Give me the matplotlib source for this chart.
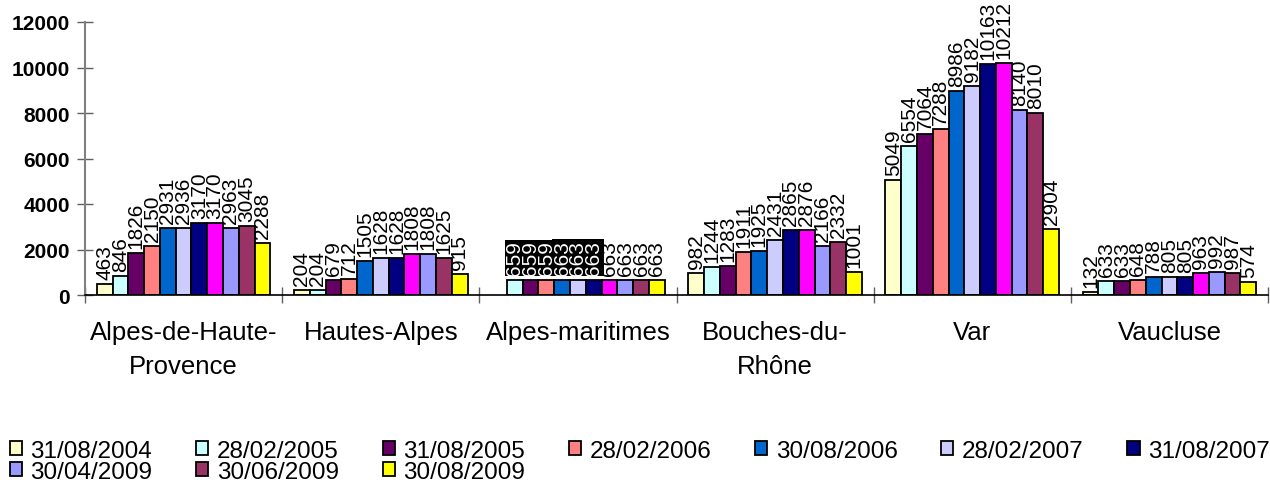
import numpy as np
import matplotlib
matplotlib.use("Agg")
import matplotlib.pyplot as plt
from matplotlib.patches import Patch

plt.rcParams['font.family'] = ['Liberation Sans', 'DejaVu Sans']

categories = ["Alpes-de-Haute-\nProvence", "Hautes-Alpes", "Alpes-maritimes",
              "Bouches-du-\nRhône", "Var", "Vaucluse"]
series_labels = ["31/08/2004", "28/02/2005", "31/08/2005", "28/02/2006",
                 "30/08/2006", "28/02/2007", "31/08/2007", None,
                 "30/04/2009", "30/06/2009", "30/08/2009"]
series_colors = ["#FFFFCC", "#CCFFFF", "#660066", "#FF8080", "#0066CC", "#CCCCFF",
                 "#000080", "#FF00FF", "#9999FF", "#993366", "#FFFF00"]
# values[series][category]
values = [
    [463, 204, np.nan, 982, 5049, 132],
    [846, 204, 659, 1244, 6554, 633],
    [1826, 679, 659, 1283, 7064, 633],
    [2150, 712, 659, 1911, 7288, 648],
    [2931, 1505, 663, 1925, 8986, 788],
    [2936, 1628, 663, 2431, 9182, 805],
    [3170, 1628, 663, 2865, 10163, 805],
    [3170, 1808, 663, 2876, 10212, 963],
    [2963, 1808, 663, 2166, 8140, 992],
    [3045, 1625, 663, 2332, 8010, 987],
    [2288, 915, 663, 1001, 2904, 574],
]
yticks = [0, 2000, 4000, 6000, 8000, 10000, 12000]

fig = plt.figure(figsize=(12.7, 4.85), dpi=100)
ax = fig.add_axes([85/1270, 1-296/485, (1268-85)/1270, (296-23)/485])

n = len(values)
ncat = len(categories)
bw = 0.08
x = np.arange(ncat)
for i, (vals, col, lab) in enumerate(zip(values, series_colors, series_labels)):
    xs = x - bw*n/2 + bw*(i+0.5)
    ax.bar(xs, vals, width=bw, color=col, edgecolor='black', linewidth=1.3,
           label=lab if lab else '_nolegend_')
    for j, v in enumerate(vals):
        if np.isnan(v):
            continue
        black = (j == 2 and 1 <= i <= 6)
        kw = {}
        if black:
            kw = dict(color='white', bbox=dict(facecolor='black', edgecolor='none', pad=0.5))
        ax.text(xs[j], v + 220, f"{int(v)}", rotation=90, ha='center', va='bottom',
                fontsize=15, **kw)

ax.set_xlim(-0.5, ncat - 0.5)
ax.set_ylim(0, 12000)
ax.set_yticks(yticks)
ax.set_yticklabels([str(t) for t in yticks], fontsize=15, fontweight='bold')
ax.set_xticks(np.arange(ncat + 1) - 0.5)
ax.set_xticklabels([])
ax.tick_params(axis='x', direction='inout', length=12, width=1, color='#606060')
ax.tick_params(axis='y', direction='inout', length=12, width=1, color='#606060', pad=5)
for s in ['top', 'right']:
    ax.spines[s].set_visible(False)
ax.spines['left'].set_color('#808080')
ax.spines['left'].set_linewidth(1.5)
ax.spines['bottom'].set_color('black')
ax.spines['bottom'].set_linewidth(1.2)

for j, c in enumerate(categories):
    ax.text(j, -1100, c, ha='center', va='top', fontsize=18.5, linespacing=1.55)

handles = [Patch(facecolor=c, edgecolor='black', linewidth=1.3)
           for c, l in zip(series_colors, series_labels) if l]
labels = [l for l in series_labels if l]
order = [0, 7, 1, 8, 2, 9, 3, 4, 5, 6]
fig.legend([handles[k] for k in order], [labels[k] for k in order],
           loc='upper left', bbox_to_anchor=(0.0, 1 - 431/485), ncol=7,
           frameon=False, fontsize=17.5, handlelength=0.5, handleheight=0.5,
           handletextpad=0.35, columnspacing=1.8, labelspacing=-0.05, borderaxespad=0)

fig.savefig("out.png", dpi=100)
